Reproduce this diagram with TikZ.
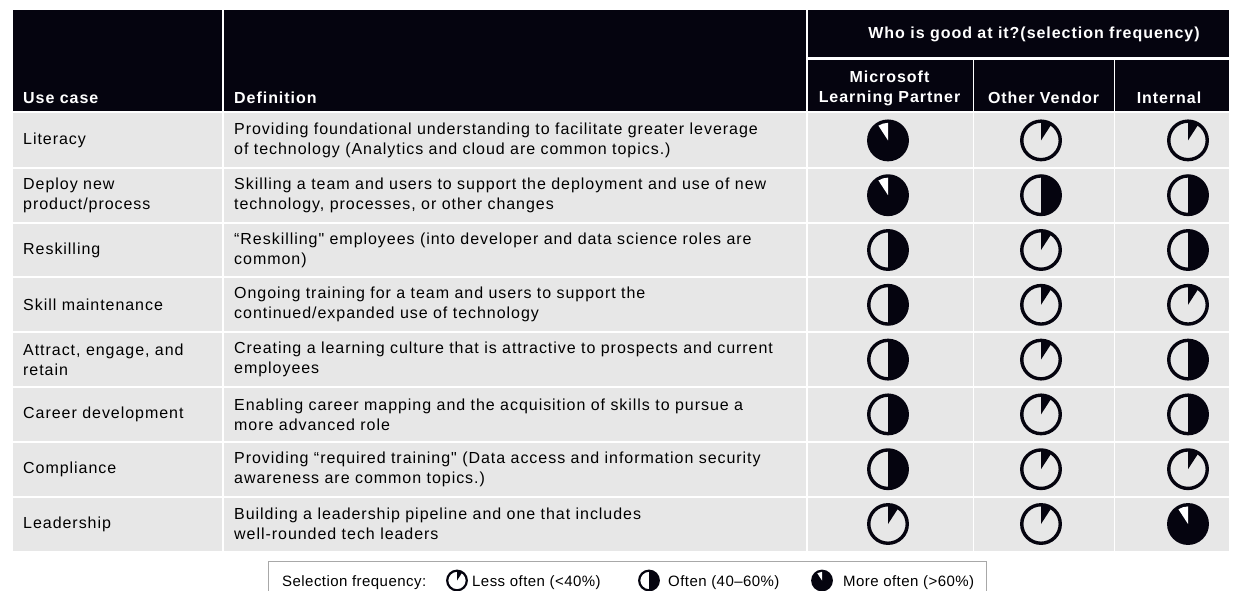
\documentclass[tikz,border=0pt]{standalone}
\usepackage{fontspec}
\setmainfont{Liberation Sans}[LetterSpace=6, Ligatures=TeXOff]
\newfontfamily\legendfont{Liberation Sans}[LetterSpace=3]
\definecolor{hdr}{HTML}{05040F}
\definecolor{rowbg}{HTML}{E7E7E7}
\definecolor{lgborder}{HTML}{A8A8A8}
\tikzset{
  gR/.store in=\gR, gW/.store in=\gW, gR=19.25pt, gW=3.4pt,
  moreof/.pic={
    \fill[hdr] (0,0) circle[radius={\gR+\gW/2}];
    \fill[white] (0,0) -- (90:{\gR-\gW/2}) arc[start angle=90,end angle=123,radius={\gR-\gW/2}] -- cycle;
  },
  lessof/.pic={
    \draw[hdr,line width=\gW] (0,0) circle[radius=\gR];
    \fill[hdr] (0,0) -- (90:\gR) arc[start angle=90,end angle=57,radius=\gR] -- cycle;
  },
  halfof/.pic={
    \fill[hdr] (0,0) -- (90:\gR) arc[start angle=90,end angle=-90,radius=\gR] -- cycle;
    \draw[hdr,line width=\gW] (0,0) circle[radius=\gR];
  },
  txt/.style={font=\fontsize{16}{20}\selectfont, text=black, inner sep=0pt, align=left},
  htxt/.style={font=\fontsize{16}{20}\selectfont\bfseries, text=white, inner sep=0pt, align=center},
  lgtxt/.style={font=\fontsize{15}{18}\legendfont, text=black, inner sep=0pt},
}
\begin{document}
\begin{tikzpicture}[x=1pt,y=-1pt]
\useasboundingbox (0,0) rectangle (1242,590);
\fill[white] (0,0) rectangle (1242,590);
% header
\fill[hdr] (13,10) rectangle (1229,111);
\fill[white] (807,57) rectangle (1229,60);
% rows background
\fill[rowbg] (13,113) rectangle (1229,551);
% row separators
\foreach \k in {1,...,7} {
  \fill[white] (13,{113+54.8*\k-1}) rectangle (1229,{113+54.8*\k+1});
}
% column separators
\fill[white] (222,10) rectangle (223.5,551);
\fill[white] (806,10) rectangle (807.5,551);
\fill[white] (972.5,60) rectangle (974,551);
\fill[white] (1113.5,60) rectangle (1115,551);

% header texts
\node[htxt, anchor=base west] (hUse) at (23,103) {Use case};
\node[htxt, anchor=base west] (hDef) at (234,103) {Definition};
\node[htxt, anchor=base] (hWho) at (1034,38) {Who is good at it?(selection frequency)};
\node[htxt, anchor=south] (hMS) at (889.5,106.4) {Microsoft\\Learning Partner};
\node[htxt, anchor=base] (hOV) at (1043.5,103) {Other Vendor};
\node[htxt, anchor=base] (hIn) at (1169,103) {Internal};

% use cases
\node[txt, anchor=west] (uc1) at (23,140.4) {Literacy};
\node[txt, anchor=west] (uc2) at (23,195.2) {Deploy new\\product/process};
\node[txt, anchor=west] (uc3) at (23,250.0) {Reskilling};
\node[txt, anchor=west] (uc4) at (23,304.8) {Skill maintenance};
\node[txt, anchor=west] (uc5) at (23,359.6) {Attract, engage, and\\retain};
\node[txt, anchor=west] (uc6) at (23,414.4) {Career development};
\node[txt, anchor=west] (uc7) at (23,469.2) {Compliance};
\node[txt, anchor=west] (uc8) at (23,524.0) {Leadership};

% definitions
\node[txt, anchor=west] (df1) at (234,140.4) {Providing foundational understanding to facilitate greater leverage\\of technology (Analytics and cloud are common topics.)};
\node[txt, anchor=west] (df2) at (234,195.2) {Skilling a team and users to support the deployment and use of new\\technology, processes, or other changes};
\node[txt, anchor=west] (df3) at (234,250.0) {“Reskilling" employees (into developer and data science roles are\\common)};
\node[txt, anchor=west] (df4) at (234,304.8) {Ongoing training for a team and users to support the\\continued/expanded use of technology};
\node[txt, anchor=west] (df5) at (234,359.6) {Creating a learning culture that is attractive to prospects and current\\employees};
\node[txt, anchor=west] (df6) at (234,414.4) {Enabling career mapping and the acquisition of skills to pursue a\\more advanced role};
\node[txt, anchor=west] (df7) at (234,469.2) {Providing “required training" (Data access and information security\\awareness are common topics.)};
\node[txt, anchor=west] (df8) at (234,524.0) {Building a leadership pipeline and one that includes\\well-rounded tech leaders};

% ratings
\foreach \y/\a/\b/\c in {140.4/moreof/lessof/lessof, 195.2/moreof/halfof/halfof,
  250.0/halfof/lessof/halfof, 304.8/halfof/lessof/lessof, 359.6/halfof/lessof/halfof,
  414.4/halfof/lessof/halfof, 469.2/halfof/lessof/lessof, 524.0/lessof/lessof/moreof} {
  \pic at (888,\y) {\a};
  \pic at (1041,\y) {\b};
  \pic at (1188,\y) {\c};
}

% legend
\draw[lgborder, line width=1pt] (268,595) -- (268,561) -- (986,561) -- (986,595);
\node[lgtxt, anchor=base west] (lgTitle) at (282,586) {Selection frequency:};
\pic[gR=9.8pt,gW=2.2pt] at (457,580.5) {lessof};
\node[lgtxt, anchor=base west] (lgLess) at (472,586) {Less often (<40\%)};
\pic[gR=9.8pt,gW=2.2pt] at (649,580.5) {halfof};
\node[lgtxt, anchor=base west] (lgHalf) at (668,586) {Often (40–60\%)};
\pic[gR=9.8pt,gW=2.2pt] at (822,580.5) {moreof};
\node[lgtxt, anchor=base west] (lgMore) at (843,586) {More often (>60\%)};
\end{tikzpicture}
\end{document}
